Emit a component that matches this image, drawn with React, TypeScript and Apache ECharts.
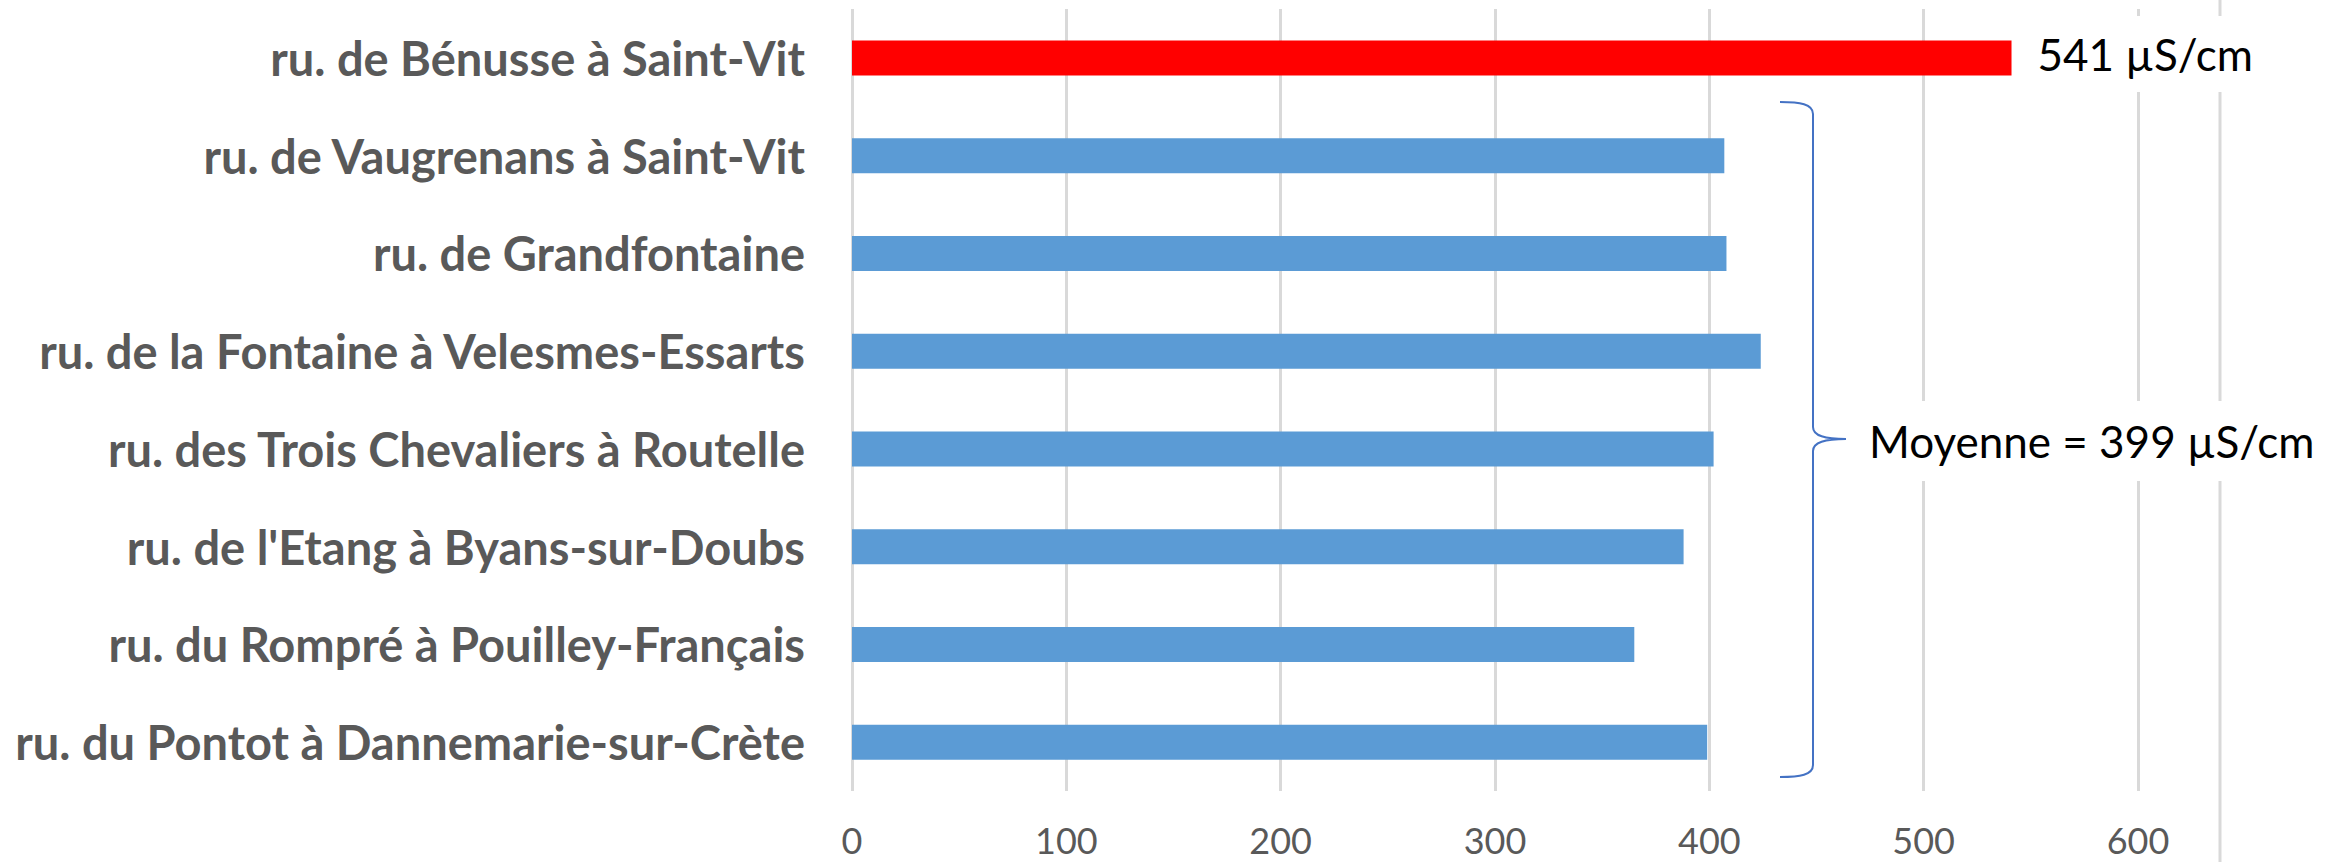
import React, { useEffect, useRef } from "react";
import * as echarts from "echarts";

// Streams, top to bottom
const categories: string[] = [
  "ru. de Bénusse à Saint-Vit",
  "ru. de Vaugrenans à Saint-Vit",
  "ru. de Grandfontaine",
  "ru. de la Fontaine à Velesmes-Essarts",
  "ru. des Trois Chevaliers à Routelle",
  "ru. de l'Etang à Byans-sur-Doubs",
  "ru. du Rompré à Pouilley-Français",
  "ru. du Pontot à Dannemarie-sur-Crète",
];

// Electrical conductivity (µS/cm)
const conductivity: number[] = [541, 407, 408, 424, 402, 388, 365, 399];

// Index of the stream singled out in red
const highlightIndex = 0;

// Value axis ticks
const axisMin = 0;
const axisMax = 700;
const axisInterval = 100;

const unit = "µS/cm";

// Average of the bracketed streams (all except the highlighted one)
const others = conductivity.filter((_, i) => i !== highlightIndex);
const average = Math.round(others.reduce((a, b) => a + b, 0) / others.length);

const BLUE = "#5B9BD5";
const RED = "#FF0000";
const GRID_GREY = "#D9D9D9";
const LABEL_GREY = "#595959";
const BRACE_BLUE = "#4472C4";
const FONT = "Lato";

// Curly brace drawn beside the bracketed bars
const braceD =
  "M1780 102 C1800 102 1813 104 1813 114 L1813 427 C1813 436 1825 439 1846 439 " +
  "M1846 439 C1825 439 1813 442 1813 451 L1813 765 C1813 775 1800 777 1780 777";

let braceRegistered = false;
function registerBrace() {
  if (braceRegistered) return;
  echarts.graphic.registerShape("brace", echarts.graphic.extendPath(braceD, {}));
  braceRegistered = true;
}

export default function App() {
  const ref = useRef<HTMLDivElement>(null);

  useEffect(() => {
    if (!ref.current) return;
    registerBrace();
    const chart = echarts.init(ref.current, undefined, { renderer: "svg" });

    const data = conductivity.map((v, i) =>
      i === highlightIndex
        ? {
            value: v,
            itemStyle: { color: RED },
            label: {
              show: true,
              position: "right",
              distance: 10,
              offset: [0, -4],
              formatter: (p: any) => `${p.value} ${unit}`,
              fontFamily: FONT,
              fontSize: 44,
              color: "#000",
              backgroundColor: "#fff",
              padding: [16, 40, 16, 16],
            },
          }
        : { value: v, itemStyle: { color: BLUE } }
    );

    chart.setOption({
      animation: false,
      backgroundColor: "#fff",
      grid: {
        left: 852,
        top: 9,
        height: 782,
        width: 1500.3,
        containLabel: false,
        outerBoundsMode: "none",
      },
      xAxis: {
        type: "value",
        min: axisMin,
        max: axisMax,
        interval: axisInterval,
        axisLine: { show: false },
        axisTick: { show: false },
        splitLine: { show: true, lineStyle: { color: GRID_GREY, width: 3 } },
        axisLabel: {
          showMaxLabel: false,
          margin: 32,
          lineHeight: 34,
          fontFamily: FONT,
          fontSize: 36,
          color: LABEL_GREY,
        },
      },
      yAxis: {
        type: "category",
        inverse: true,
        data: categories,
        axisLine: { show: false },
        axisTick: { show: false },
        axisLabel: {
          margin: 47,
          fontFamily: FONT,
          fontWeight: "bold",
          fontSize: 47,
          color: LABEL_GREY,
        },
      },
      series: [
        {
          type: "bar",
          barWidth: 35,
          data,
        },
      ],
      graphic: [
        {
          type: "line",
          z: 0,
          shape: { x1: 2220, y1: 0, x2: 2220, y2: 862 },
          style: { stroke: GRID_GREY, lineWidth: 3 },
        },
        {
          type: "brace",
          z: 5,
          x: 0,
          y: 0,
          style: { fill: "none", stroke: BRACE_BLUE, lineWidth: 2 },
        },
        {
          type: "text",
          z: 10,
          x: 1853,
          y: 441,
          style: {
            text: `Moyenne = ${average} ${unit}`,
            fontFamily: FONT,
            fontSize: 44,
            fill: "#000",
            align: "left",
            verticalAlign: "middle",
            backgroundColor: "#fff",
            padding: [18, 20, 18, 16],
          },
        },
      ],
    });

    return () => chart.dispose();
  }, []);

  return (
    <div
      ref={ref}
      style={{ position: "fixed", left: 0, top: 0, width: 2339, height: 862, background: "#fff" }}
    />
  );
}
